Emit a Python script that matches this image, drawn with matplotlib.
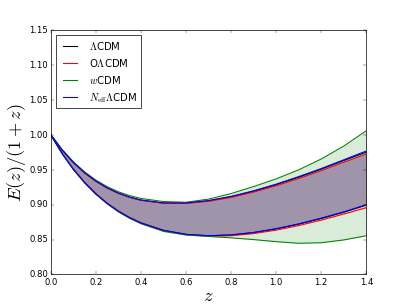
import matplotlib
matplotlib.use('Agg')
import matplotlib.pyplot as plt
import numpy as np

plt.style.use('classic')

# redshift grid
z = [0.0, 0.05, 0.1, 0.15, 0.2, 0.25, 0.3, 0.35, 0.4, 0.5,
     0.6, 0.7, 0.8, 0.9, 1.0, 1.1, 1.2, 1.3, 1.4]

lcdm_hi = [1.0, 0.9783, 0.9603, 0.9455, 0.9335, 0.9239, 0.9163, 0.9106, 0.9064, 0.9022,
           0.9022, 0.9055, 0.9114, 0.9193, 0.9287, 0.9394, 0.9509, 0.9633, 0.9755]
lcdm_lo = [1.0, 0.9735, 0.9510, 0.9319, 0.9157, 0.9021, 0.8908, 0.8815, 0.8740, 0.8633,
           0.8575, 0.8555, 0.8566, 0.8600, 0.8653, 0.8721, 0.8802, 0.8892, 0.8995]

olcdm_hi = [1.0, 0.9783, 0.9603, 0.9455, 0.9335, 0.9239, 0.9163, 0.9106, 0.9063, 0.9020,
            0.9018, 0.9048, 0.9104, 0.9180, 0.9271, 0.9375, 0.9487, 0.9608, 0.9727]
olcdm_lo = [1.0, 0.9735, 0.9510, 0.9319, 0.9157, 0.9021, 0.8908, 0.8815, 0.8739, 0.8631,
            0.8571, 0.8548, 0.8555, 0.8586, 0.8636, 0.8701, 0.8779, 0.8866, 0.8957]

wcdm_hi = [1.0, 0.9790, 0.9615, 0.9470, 0.9352, 0.9258, 0.9185, 0.9130, 0.9090, 0.9045,
           0.9035, 0.9080, 0.9160, 0.9260, 0.9370, 0.9500, 0.9655, 0.9840, 1.0060]
wcdm_lo = [1.0, 0.9730, 0.9503, 0.9311, 0.9148, 0.9011, 0.8897, 0.8803, 0.8727, 0.8617,
           0.8565, 0.8545, 0.8525, 0.8500, 0.8470, 0.8447, 0.8455, 0.8495, 0.8555]

neff_hi = [1.0, 0.9785, 0.9606, 0.9459, 0.9339, 0.9243, 0.9167, 0.9110, 0.9068, 0.9026,
           0.9026, 0.9060, 0.9120, 0.9200, 0.9295, 0.9403, 0.9519, 0.9644, 0.9770]
neff_lo = [1.0, 0.9732, 0.9506, 0.9315, 0.9153, 0.9017, 0.8905, 0.8812, 0.8738, 0.8632,
           0.8575, 0.8556, 0.8568, 0.8603, 0.8657, 0.8726, 0.8808, 0.8898, 0.9000]

models = [(r'$\Lambda$CDM', 'k', lcdm_lo, lcdm_hi),
          (r'O$\Lambda$CDM', 'r', olcdm_lo, olcdm_hi),
          (r'$w$CDM', 'g', wcdm_lo, wcdm_hi),
          (r'$N_{\rm eff}\Lambda$CDM', 'b', neff_lo, neff_hi)]

fig = plt.figure(figsize=(8, 6), facecolor='white')
ax = plt.subplot(1, 1, 1)
for lab, c, lo, hi in models:
	ax.fill_between(z, lo, hi, color=c, alpha=0.15, linewidth=0)
	ax.plot(z, hi, color=c, lw=1.5, label=lab)
	ax.plot(z, lo, color=c, lw=1.5)

ax.set_xlim(0, 1.4)
ax.set_ylim(0.8, 1.15)
ax.set_xticks(np.arange(0, 1.41, 0.2))
ax.set_yticks(np.arange(0.8, 1.151, 0.05))
ax.set_xlabel(r'$z$', fontsize=26, labelpad=0)
ax.set_ylabel(r'$E(z)/(1+z)$', fontsize=26, labelpad=2)
ax.legend(loc='upper left')
plt.savefig('out.png', dpi=50.875, facecolor='white')
